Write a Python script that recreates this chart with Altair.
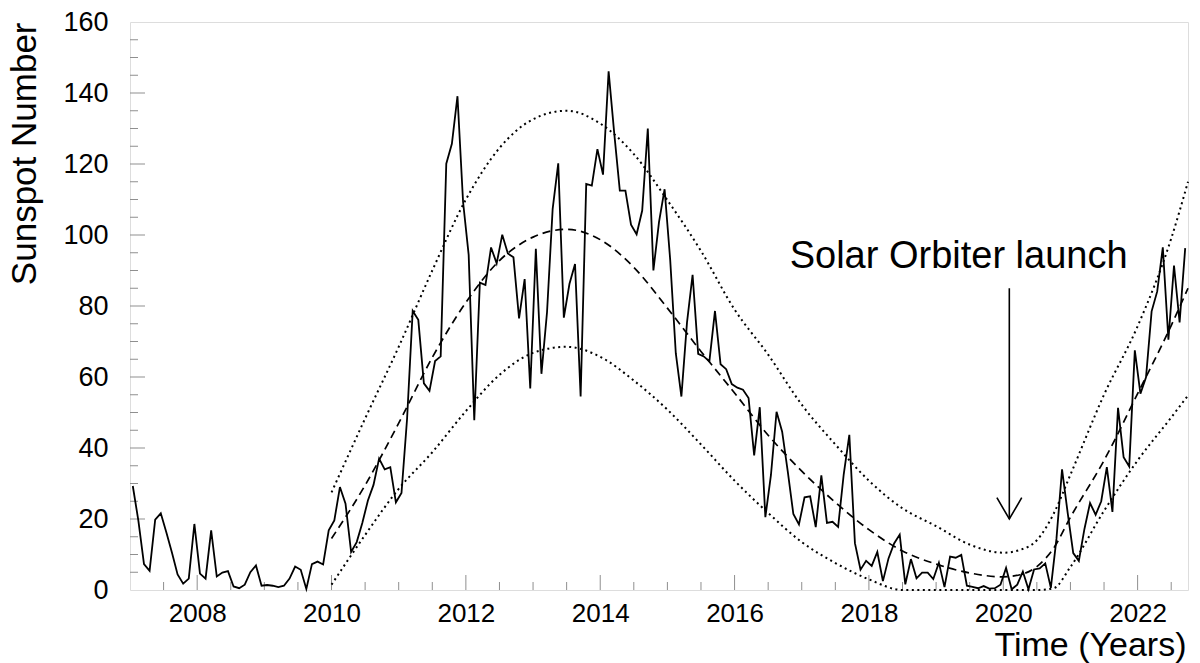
import altair as alt
import pandas as pd

# ---------------- data ----------------
START_YEAR = 2007
# monthly sunspot number, Jan 2007 .. Sep 2022
sunspot_monthly = [
    29.3, 19.5, 7.3, 5.4, 19.8, 21.6, 16.2, 10.5, 4.4, 1.8, 3.2, 18.6,      # 2007
    4.6, 3.2, 16.8, 3.8, 4.9, 5.3, 1.0, 0.5, 1.5, 5.0, 6.9, 1.2,            # 2008
    1.4, 1.2, 0.8, 1.2, 3.2, 6.6, 5.7, 0.3, 7.3, 8.0, 7.2, 16.8,            # 2009
    19.6, 29.0, 24.3, 10.7, 13.5, 18.9, 25.2, 29.6, 37.0, 34.0, 34.6, 24.7, # 2010
    27.3, 48.3, 78.6, 76.1, 58.2, 56.1, 64.5, 65.8, 120.1, 125.7, 139.1, 109.3,  # 2011
    94.4, 47.8, 86.6, 85.9, 96.5, 92.0, 100.1, 94.8, 93.7, 76.5, 87.6, 56.8,     # 2012
    96.1, 60.9, 78.3, 107.3, 120.2, 76.7, 86.2, 91.8, 54.5, 114.4, 113.9, 124.2, # 2013
    117.0, 146.1, 128.7, 112.5, 112.5, 102.9, 100.2, 106.9, 130.0, 90.0, 103.6, 112.9,  # 2014
    93.0, 66.7, 54.5, 75.3, 88.8, 66.5, 65.8, 64.4, 78.6, 63.6, 62.2, 58.0,      # 2015
    57.0, 56.4, 54.1, 37.9, 51.5, 20.5, 32.4, 50.2, 44.6, 33.4, 21.4, 18.5,      # 2016
    26.1, 26.4, 17.7, 32.3, 18.9, 19.2, 17.8, 32.6, 43.7, 13.2, 5.7, 8.2,        # 2017
    6.8, 10.7, 2.5, 8.9, 13.1, 15.6, 1.6, 8.7, 3.3, 4.9, 4.9, 3.1,              # 2018
    7.7, 0.8, 9.4, 9.1, 9.9, 1.2, 0.9, 0.5, 1.1, 0.4, 0.5, 1.5,                 # 2019
    6.2, 0.2, 1.5, 5.2, 0.2, 5.8, 6.1, 7.5, 0.6, 14.4, 34.0, 21.8,              # 2020
    10.4, 8.2, 17.2, 24.5, 21.2, 25.0, 34.6, 22.0, 51.3, 37.4, 34.8, 67.5,      # 2021
    55.3, 59.9, 78.5, 84.1, 96.5, 70.5, 91.4, 75.4, 96.3,                       # 2022
]

# fitted cycle curve (dashed) and its upper / lower bounds (dotted)
curve_years = [2010.0, 2010.5, 2011.0, 2011.5, 2012.0, 2012.5, 2013.0, 2013.5,
               2014.0, 2014.5, 2015.0, 2015.5, 2016.0, 2016.5, 2017.0, 2017.5,
               2018.0, 2018.5, 2019.0, 2019.5, 2020.0, 2020.25, 2020.5, 2020.75,
               2021.0, 2021.5, 2022.0, 2022.5, 2022.75]
fit_values = [14.5, 29.5, 47.0, 65.5, 81.0, 92.8, 99.4, 101.6,
              98.7, 90.9, 79.4, 67.2, 55.5, 43.6, 33.5, 24.7,
              17.0, 11.0, 7.3, 4.8, 3.7, 4.3, 6.6, 11.8,
              20.5, 36.5, 55.3, 74.5, 85.0]
upper_values = [27.5, 48.3, 68.5, 90.0, 110.0, 124.5, 132.6, 135.0,
                131.4, 122.8, 109.8, 95.5, 79.0, 66.3, 52.2, 41.0,
                30.8, 23.0, 18.0, 12.8, 10.5, 11.3, 14.0, 21.5,
                32.5, 55.0, 74.3, 99.0, 115.0]
lower_values = [1.5, 15.5, 28.5, 38.8, 50.4, 60.6, 66.8, 68.5,
                65.7, 59.0, 50.8, 41.0, 30.8, 21.7, 13.5, 7.6,
                3.0, 0.0, 0.0, 0.0, 0.0, 0.0, 0.0, 0.5,
                6.5, 22.3, 36.5, 48.6, 54.8]

x_label_years = [2008, 2010, 2012, 2014, 2016, 2018, 2020, 2022]
x_minor_years = [2007.5, 2008.5, 2009.0, 2009.5, 2010.5, 2011.0, 2011.5, 2012.5,
                 2013.0, 2013.5, 2014.5, 2015.0, 2015.5, 2016.5, 2017.0, 2017.5,
                 2018.5, 2019.0, 2019.5, 2020.5, 2021.0, 2021.5, 2022.5]
y_label_values = [0, 20, 40, 60, 80, 100, 120, 140, 160]
y_major_ticks = [20, 40, 60, 80, 100, 120, 140]
y_minor_ticks = [5, 10, 15, 25, 30, 35, 45, 50, 55, 65, 70, 75, 85, 90, 95,
                 105, 110, 115, 125, 130, 135, 145, 150, 155]

annotation_text = "Solar Orbiter launch"
launch_year = 2020.09
arrow_top, arrow_tip, arrow_head = 85, 20, 26
arrow_half_width = 0.185
text_year, text_value = 2016.82, 90.6

# ---------------- chart ----------------
W, H = 1058, 568
FONT = "Liberation Sans"
FRAME = "#8f8f8f"

xs = alt.Scale(domain=[2007, 2022.75], nice=False, zero=False)
ys = alt.Scale(domain=[0, 160], nice=False, zero=False)

x_axis = alt.Axis(values=x_label_years, format="d", labelFontSize=26, labelColor="black",
                  labelFont=FONT, ticks=False, domain=False, grid=False,
                  labelPadding=10, labelFlush=False,
                  title="Time (Years)", titleFont=FONT, titleFontSize=34,
                  titleFontWeight="normal", titleColor="black",
                  titleX=W - 2, titleY=65, titleAlign="right", titleBaseline="alphabetic")
y_axis = alt.Axis(values=y_label_values, format="d", labelFontSize=27, labelColor="black",
                  labelFont=FONT, ticks=False, domain=False, grid=False,
                  labelPadding=22, labelFlush=False,
                  title="Sunspot Number", titleFont=FONT, titleFontSize=35,
                  titleFontWeight="normal", titleColor="black", titleAngle=270,
                  titleX=-95, titleY=0, titleAlign="right", titleBaseline="alphabetic")


def X(field):
    return alt.X(f"{field}:Q", scale=xs, axis=x_axis)


def Y(field):
    return alt.Y(f"{field}:Q", scale=ys, axis=y_axis)


sun_df = pd.DataFrame({
    "year": [START_YEAR + (i + 0.5) / 12 for i in range(len(sunspot_monthly))],
    "ssn": sunspot_monthly,
})
curve_df = pd.DataFrame({"year": curve_years, "fit": fit_values,
                         "upper": upper_values, "lower": lower_values})

main = alt.Chart(sun_df).mark_line(color="black", strokeWidth=1.8).encode(
    x=X("year"), y=Y("ssn"))


def curve(field, dash, width):
    return alt.Chart(curve_df).mark_line(color="black", strokeWidth=width, strokeDash=dash,
                                         interpolate="monotone").encode(
        x=X("year"), y=Y(field))


fit_line = curve("fit", [8, 5], 1.7)
upper_line = curve("upper", [2, 3.5], 2)
lower_line = curve("lower", [2, 3.5], 2)


def xticks(vals, length):
    return alt.Chart(pd.DataFrame({"t": vals})).mark_rule(color=FRAME, strokeWidth=1).encode(
        x=X("t"), y=alt.value(H), y2=alt.value(H - length))


def yticks(vals, length):
    return alt.Chart(pd.DataFrame({"t": vals})).mark_rule(color=FRAME, strokeWidth=1).encode(
        y=Y("t"), x=alt.value(0), x2=alt.value(length))


label = alt.Chart(pd.DataFrame({"x": [text_year], "y": [text_value], "t": [annotation_text]})).mark_text(
    align="left", baseline="alphabetic", fontSize=38, font=FONT, color="black").encode(
    x=X("x"), y=Y("y"), text="t:N")

shaft = alt.Chart(pd.DataFrame({"x": [launch_year], "y": [arrow_top], "y2": [arrow_tip]})).mark_rule(
    color="black", strokeWidth=1.6).encode(x=X("x"), y=Y("y"), y2="y2:Q")

head = alt.Chart(pd.DataFrame({
    "x": [launch_year - arrow_half_width, launch_year, launch_year + arrow_half_width],
    "y": [arrow_head, arrow_tip, arrow_head], "o": [0, 1, 2]})).mark_line(
    color="black", strokeWidth=1.6).encode(x=X("x"), y=Y("y"), order="o:O")

chart = alt.layer(
    xticks(x_label_years, 15), xticks(x_minor_years, 8),
    yticks(y_major_ticks, 15), yticks(y_minor_ticks, 8),
    upper_line, lower_line, fit_line, main, label, shaft, head,
).properties(
    width=W, height=H,
    autosize=alt.AutoSizeParams(type="none"),
    padding={"left": 122, "top": 14, "right": 4, "bottom": 74},
    background="white",
).configure_view(stroke=FRAME, strokeWidth=1).configure(font=FONT)

chart.save("out.html", embed_options={"renderer": "svg", "actions": False})
